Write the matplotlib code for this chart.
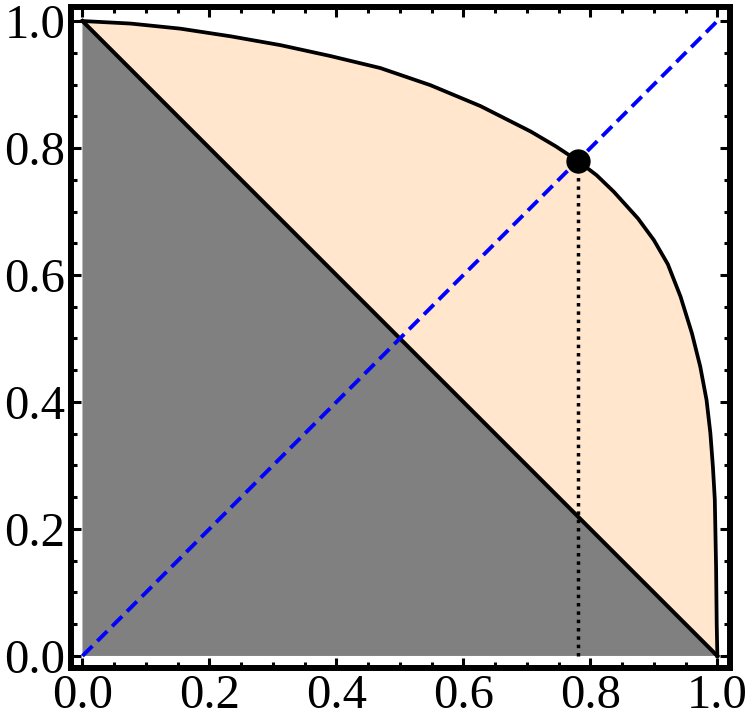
import matplotlib
matplotlib.use('Agg')
import matplotlib.pyplot as plt
from matplotlib.ticker import MultipleLocator

# boundary curve
curve_x = [0.0, 0.076, 0.154, 0.233, 0.312, 0.39, 0.469, 0.548, 0.627, 0.706, 0.745,
           0.78, 0.81, 0.837, 0.875, 0.90, 0.922, 0.942, 0.960, 0.973, 0.983, 0.989,
           0.993, 0.996, 0.998, 0.999, 1.0]
curve_y = [1.0, 0.996, 0.988, 0.976, 0.962, 0.945, 0.926, 0.899, 0.866, 0.826, 0.803,
           0.78, 0.757, 0.731, 0.689, 0.655, 0.617, 0.566, 0.508, 0.456, 0.403, 0.351,
           0.298, 0.246, 0.14, 0.05, 0.0]

# straight line x + y = 1 and the equality line
diag_x = [0.0, 1.0]
diag_y = [1.0, 0.0]
eq_x = [0.0, 1.0]
eq_y = [0.0, 1.0]

# marked point
pt_x = 0.78
pt_y = 0.78

tick_vals = [0.0, 0.2, 0.4, 0.6, 0.8, 1.0]
tick_labels = ['0.0', '0.2', '0.4', '0.6', '0.8', '1.0']

plt.rcParams['font.family'] = ['Liberation Serif', 'DejaVu Serif']

fig = plt.figure(figsize=(7.5, 7.2), dpi=100)
ax = fig.add_axes([0.0947, 0.0722, 0.8787, 0.918])

# fills
ax.fill([0.0, 0.0, 1.0], [0.0, 1.0, 0.0], color='#808080', lw=0, zorder=1)
ax.fill(curve_x, curve_y, color='#FFE6CC', lw=0, zorder=1)

# lines
ax.plot(curve_x, curve_y, color='black', lw=2.7, solid_joinstyle='round', zorder=3)
ax.plot(diag_x, diag_y, color='black', lw=2.9, zorder=3)
ax.plot([pt_x, pt_x], [0.0, pt_y], color='black', lw=2.5, linestyle=(0, (1, 1.4)), zorder=3)
ax.plot(eq_x, eq_y, color='blue', lw=2.8, dashes=(3.6, 1.8), zorder=4)
ax.plot(pt_x, pt_y, 'o', color='black', ms=16.5, zorder=5)

ax.set_xlim(-0.018, 1.02)
ax.set_ylim(-0.019, 1.022)

ax.set_xticks(tick_vals)
ax.set_xticklabels(tick_labels)
ax.set_yticks(tick_vals)
ax.set_yticklabels(tick_labels)
ax.xaxis.set_minor_locator(MultipleLocator(0.05))
ax.yaxis.set_minor_locator(MultipleLocator(0.05))

for s in ax.spines.values():
    s.set_linewidth(4.3)
    s.set_color('black')

ax.tick_params(which='both', direction='in', top=True, right=True, width=2.2, color='black')
ax.tick_params(which='major', length=7.5, labelsize=35, pad=4)
ax.tick_params(which='minor', length=4.5)

fig.savefig('out.png', dpi=100)
